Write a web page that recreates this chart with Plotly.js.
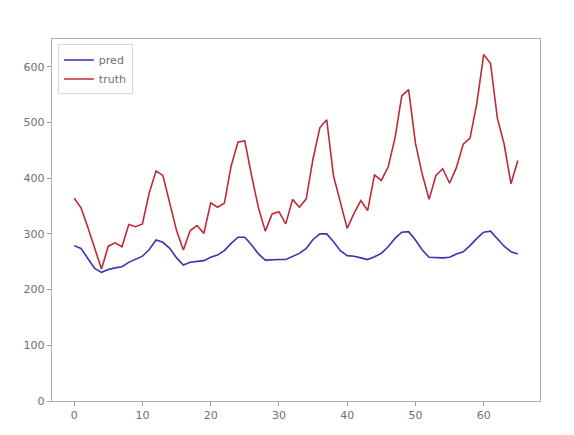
<!DOCTYPE html>
<html>
<head>
<meta charset="utf-8">
<script src="https://cdn.plot.ly/plotly-3.0.1.min.js"></script>
<style>html,body{margin:0;padding:0;background:#fff;}#chart{width:574px;height:435px;}</style>
</head>
<body>
<div id="chart"></div>
<script>
const steps = Array.from({length: 66}, (_, i) => i);
const predValues = [279, 274, 256, 238, 231, 236, 239, 241, 249, 254, 260, 272,
  289, 285, 274, 257, 244, 249, 251, 252, 258, 262, 270, 283,
  294, 294, 280, 264, 253, 254, 254, 254, 260, 265, 274, 290,
  300, 300, 286, 270, 261, 260, 257, 254, 259, 265, 277, 292,
  303, 304, 289, 271, 258, 257, 257, 258, 264, 268, 279, 292,
  303, 305, 292, 278, 268, 264];
const truthValues = [364, 347, 312, 274, 237, 278,
  284, 277, 317, 313, 318, 374, 413, 405, 355, 306, 271, 306,
  315, 301, 356, 348, 355, 422, 465, 467, 404, 347, 305, 336,
  340, 318, 362, 348, 363, 435, 491, 505, 404, 359, 310, 337,
  360, 342, 406, 396, 420, 472, 548, 559, 463, 407, 362, 405,
  417, 391, 419, 461, 472, 535, 622, 606, 508, 461, 390, 432];
const seriesNames = ["pred", "truth"];

const traces = [
  {x: steps, y: predValues, name: seriesNames[0], type: "scatter", mode: "lines",
   line: {color: "#3535b0", width: 1.6}},
  {x: steps, y: truthValues, name: seriesNames[1], type: "scatter", mode: "lines",
   line: {color: "#c02a38", width: 1.6}}
];

const axisCommon = {
  showgrid: false, zeroline: false, showline: true, mirror: true,
  linecolor: "#b0b0b0", linewidth: 1.2,
  ticks: "outside", ticklen: 4, tickcolor: "#a0a0a0",
  tickfont: {family: "DejaVu Sans", size: 11, color: "#707070"}
};

const layout = {
  width: 574, height: 435,
  margin: {l: 52, r: 34, t: 39, b: 34},
  paper_bgcolor: "#ffffff", plot_bgcolor: "#ffffff",
  showlegend: true,
  legend: {x: 0.012, y: 0.985, xanchor: "left", yanchor: "top",
    bgcolor: "rgba(255,255,255,0.9)", bordercolor: "#d8d8d8", borderwidth: 1,
    font: {family: "DejaVu Sans", size: 11, color: "#707070"}},
  xaxis: Object.assign({}, axisCommon, {range: [-3.25, 68.25], tickvals: [0,10,20,30,40,50,60]}),
  yaxis: Object.assign({}, axisCommon, {range: [0, 650], tickvals: [0,100,200,300,400,500,600]})
};

Plotly.newPlot("chart", traces, layout, {displayModeBar: false, staticPlot: true});
</script>
</body>
</html>
